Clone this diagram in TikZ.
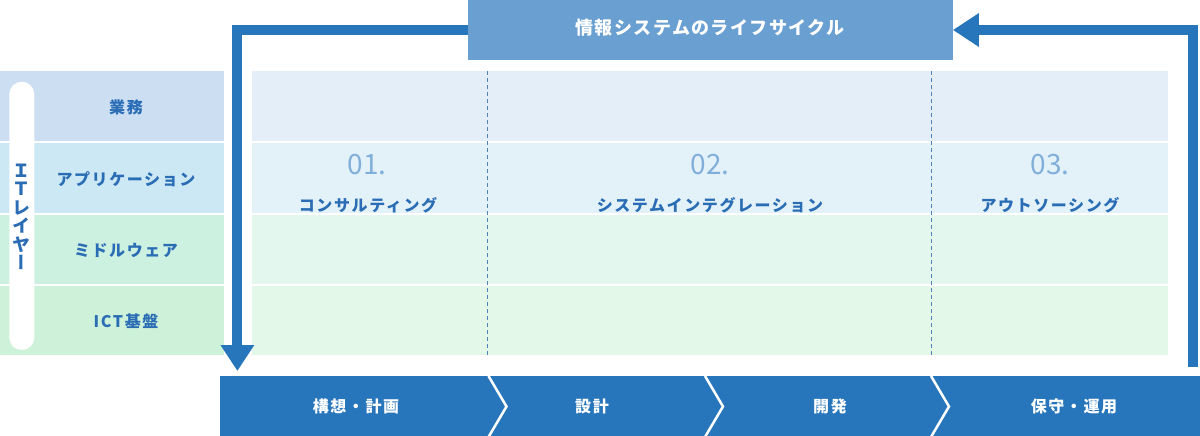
\documentclass[tikz,border=0pt]{standalone}
\usepackage{fontspec}
\setmainfont{Noto Sans CJK JP}
\newfontfamily\jpvert[RawFeature=+vert]{Noto Sans CJK JP}
\usetikzlibrary{arrows.meta}
\definecolor{mainblue}{HTML}{2776BB}
\definecolor{bannerblue}{HTML}{6A9FD1}
\definecolor{textblue}{HTML}{2A6DB5}
\definecolor{numblue}{HTML}{82AFDA}
\definecolor{dashblue}{HTML}{4F82B8}
\definecolor{lA}{HTML}{CCDEF2}
\definecolor{lB}{HTML}{CCE8F4}
\definecolor{lC}{HTML}{CDF1E0}
\definecolor{lD}{HTML}{CEF2D9}
\definecolor{gA}{HTML}{E3EEF9}
\definecolor{gB}{HTML}{E3F2F9}
\definecolor{gC}{HTML}{E4F7EE}
\definecolor{gD}{HTML}{E4F8EA}
\begin{document}
\begin{tikzpicture}[x=1pt,y=-1pt,
  lab/.style={font=\bfseries\fontsize{16}{18}\selectfont\addfontfeature{LetterSpace=10}, text=textblue, inner sep=0pt},
  num/.style={font=\fontsize{28}{30}\selectfont, text=numblue, inner sep=0pt, anchor=base},
  steplab/.style={font=\bfseries\fontsize{16}{18}\selectfont\addfontfeature{LetterSpace=10}, text=white, inner sep=0pt},
  divline/.style={draw=dashblue, line width=1pt, dash pattern=on 4pt off 3pt},
  chev/.style={draw=white, line width=2.5pt, line join=miter},
  flow/.style={draw=mainblue, line width=10pt, line join=miter, -{Triangle[length=26pt,width=32pt]}}
]
\useasboundingbox (0,0) rectangle (1200,436);
% left layer column
\fill[lA] (0,71) rectangle (224,141);
\fill[lB] (0,143) rectangle (224,213);
\fill[lC] (0,215) rectangle (224,284);
\fill[lD] (0,286) rectangle (224,355);
% grid rows
\fill[gA] (252,71) rectangle (1168,141);
\fill[gB] (252,143) rectangle (1168,213);
\fill[gC] (252,215) rectangle (1168,284);
\fill[gD] (252,286) rectangle (1168,355);
% dashed column dividers
\draw[divline] (487,71) -- (487,355);
\draw[divline] (931,71) -- (931,355);
% white rounded bar with vertical label
\fill[white, rounded corners=12.5pt] (9.3,81.7) rectangle (34.3,350);
\node[font=\jpvert\bfseries\fontsize{18}{18.5}\selectfont, text=textblue, align=center, inner sep=0pt] (itlayer) at (21.8,217) {Ｉ\\Ｔ\\レ\\イ\\ヤ\\ー};
% layer labels
\node[lab] (gyomu) at (126,107) {業務};
\node[lab] (app) at (126,179) {アプリケーション};
\node[lab] (mid) at (126,250) {ミドルウェア};
\node[lab] (ict) at (126,321) {ICT基盤};
% column headings
\node[num] (n1) at (367,174) {01.};
\node[num] (n2) at (710,174) {02.};
\node[num] (n3) at (1050,174) {03.};
\node[lab] (c1) at (368,205) {コンサルティング};
\node[lab] (c2) at (710,205) {システムインテグレーション};
\node[lab] (c3) at (1050,205) {アウトソーシング};
% bottom process bar
\fill[mainblue] (220,376) rectangle (1200,436);
\draw[chev] (488.5,376) -- (506.5,406.5) -- (488.5,437);
\draw[chev] (705,376) -- (723,406.5) -- (705,437);
\draw[chev] (931,376) -- (949,406.5) -- (931,437);
\node[steplab] (s1) at (356,406) {構想・計画};
\node[steplab] (s2) at (592,406) {設計};
\node[steplab] (s3) at (830,406) {開発};
\node[steplab] (s4) at (1074,406) {保守・運用};
% banner and lifecycle arrows
\node[fill=bannerblue, minimum width=485pt, minimum height=60pt, inner sep=0pt] (banner) at (710.2,30) {};
\coordinate (lefttip) at (237.4,371);
\coordinate (rightstart) at (1193.4,367);
\draw[flow] (banner.west) -| (lefttip);
\draw[flow] (rightstart) |- (banner.east);
\node[font=\bfseries\fontsize{18}{20}\selectfont\addfontfeature{LetterSpace=8}, text=white, inner sep=0pt] (title) at (710,28) {情報システムのライフサイクル};
\end{tikzpicture}
\end{document}
